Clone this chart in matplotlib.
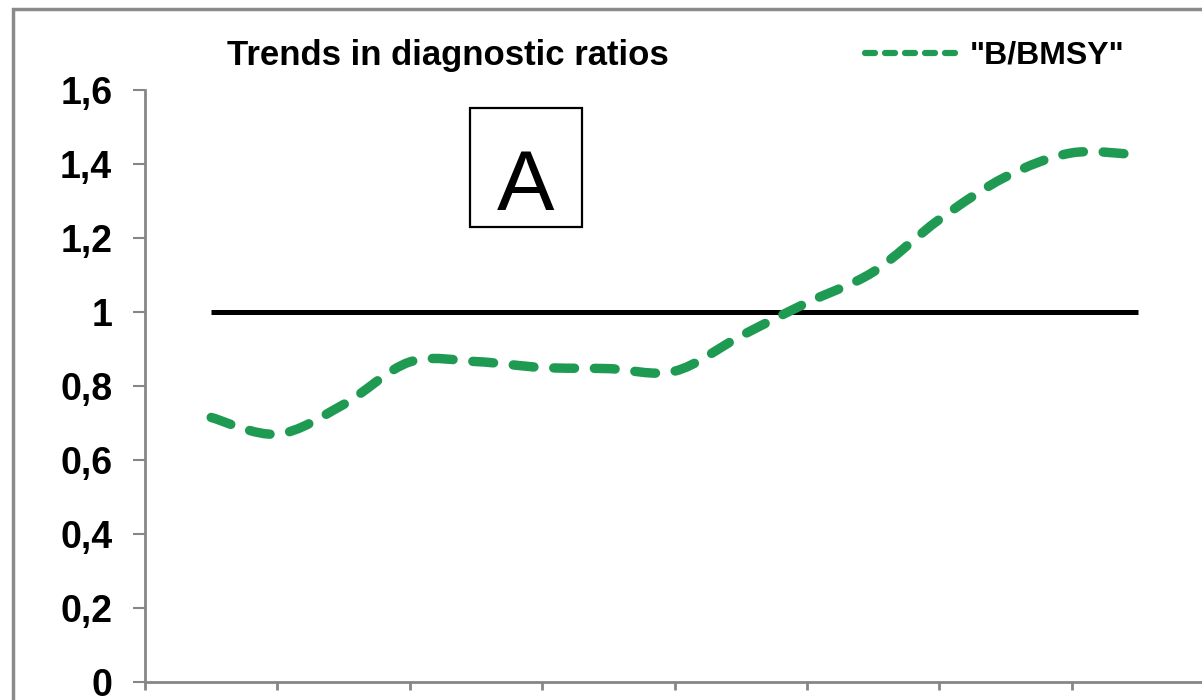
import matplotlib
matplotlib.use("Agg")
import matplotlib.pyplot as plt
from matplotlib.path import Path
from matplotlib.patches import PathPatch, Rectangle
from matplotlib.lines import Line2D

# data
periods = list(range(1, 16))
b_bmsy = [0.715, 0.67, 0.75, 0.865, 0.866, 0.85, 0.847, 0.84,
          0.935, 1.025, 1.108, 1.25, 1.365, 1.43, 1.425]
target = 1.0
y_ticks = [0, 0.2, 0.4, 0.6, 0.8, 1.0, 1.2, 1.4, 1.6]
y_labels = ["0", "0,2", "0,4", "0,6", "0,8", "1", "1,2", "1,4", "1,6"]
titre = "Trends in diagnostic ratios"
nom_serie = '"B/BMSY"'

vert = "#1f9a52"
gris = "#868686"

plt.rcParams['font.family'] = ['Liberation Sans', 'DejaVu Sans']


def courbe_lissee(xs, ys):
    # smoothed line like the spreadsheet: cubic bezier segments through the points
    pts = list(zip(xs, ys))
    verts = [pts[0]]
    codes = [Path.MOVETO]
    n = len(pts)
    for i in range(n - 1):
        p0 = pts[i - 1] if i > 0 else pts[i]
        p1 = pts[i]
        p2 = pts[i + 1]
        p3 = pts[i + 2] if i + 2 < n else pts[i + 1]
        c1 = (p1[0] + (p2[0] - p0[0]) / 6, p1[1] + (p2[1] - p0[1]) / 6)
        c2 = (p2[0] - (p3[0] - p1[0]) / 6, p2[1] - (p3[1] - p1[1]) / 6)
        verts += [c1, c2, p2]
        codes += [Path.CURVE4] * 3
    return Path(verts, codes)


fig = plt.figure(figsize=(12.02, 7.0), dpi=100)
ax = fig.add_axes([145 / 1202, 18 / 700, 1059 / 1202, 592 / 700])

ax.hlines(target, periods[0], periods[-1], color="black", lw=3.6, zorder=2)
ax.add_patch(PathPatch(courbe_lissee(periods, b_bmsy), fill=False, edgecolor=vert,
                       lw=6.8, linestyle=(0, (2.2, 2.1)), capstyle="round", zorder=3))

ax.set_xlim(0, 16)
ax.set_ylim(0, 1.6)
ax.set_xticks(range(0, 17, 2))
ax.set_yticks(y_ticks)
ax.set_yticklabels(y_labels, fontsize=27, fontweight="bold")

for side in ["top", "right"]:
    ax.spines[side].set_visible(False)
for side in ["left", "bottom"]:
    ax.spines[side].set_color(gris)
    ax.spines[side].set_linewidth(2)
ax.tick_params(axis="y", direction="out", length=9, width=1.5, color=gris, pad=14.5)
ax.tick_params(axis="x", direction="out", length=6, width=2, color=gris, labelbottom=False)

# title and legend
fig.text(227 / 1202, 635 / 700, titre, ha="left", va="baseline", fontsize=25, fontweight="bold")
poignee = Line2D([], [], color=vert, lw=4.5, dashes=(1.6, 1.6), dash_capstyle="round")
fig.legend([poignee], [nom_serie], loc="center left", bbox_to_anchor=(865 / 1202, 644 / 700),
           frameon=False, borderpad=0, borderaxespad=0, handlelength=2.9, handletextpad=0.37,
           prop={"size": 23, "weight": "bold"})

# panel letter in its box
fig.add_artist(Rectangle((470 / 1202, 473 / 700), 112 / 1202, 119 / 700, fill=False,
                         ec="black", lw=1.6, transform=fig.transFigure))
fig.text(526 / 1202, 490 / 700, "A", ha="center", va="baseline", fontsize=62,
         family=["Liberation Sans Narrow", "Liberation Sans"])

# outer frame of the chart (cropped at right and bottom)
fig.add_artist(Rectangle((12.5 / 1202, -0.2), 2, (700 - 9) / 700 + 0.2, fill=False,
                         ec="#8a8a8a", lw=2.5, transform=fig.transFigure, clip_on=False))

fig.savefig("out.png", dpi=100)
plt.close(fig)
